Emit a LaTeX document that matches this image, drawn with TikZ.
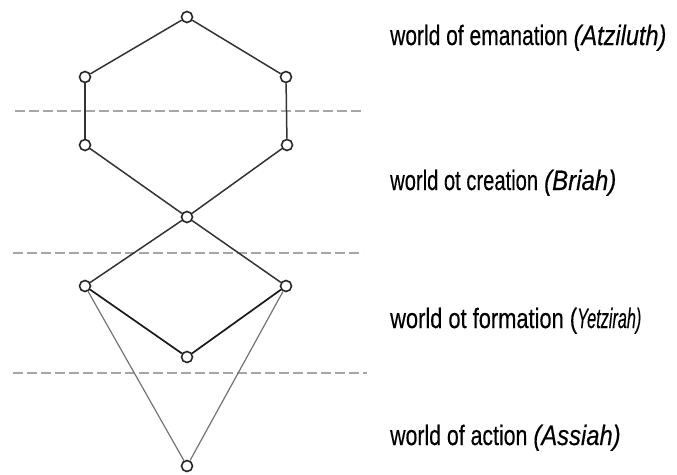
\documentclass[tikz,border=0pt]{standalone}
\usepackage{fontspec}
\setmainfont{Liberation Sans}
\newfontfamily\lblfont[FakeBold=0.35]{Liberation Sans}
\begin{document}
\begin{tikzpicture}[x=1pt,y=-1pt,
  pt/.style={circle,draw=black!85,line width=1.6pt,fill=white,inner sep=0pt,minimum size=11pt},
  edge/.style={draw=black!80,line width=1.5pt},
  faint/.style={draw=black!55,line width=1.2pt},
  sep/.style={draw=black!35,line width=1.1pt,dash pattern=on 10pt off 4pt},
  lbl/.style={anchor=base west,inner sep=0pt,font=\lblfont\fontsize{28}{30}\selectfont}]
\useasboundingbox (0,0) rectangle (677,474);
% separating dashed lines
\coordinate (s1a) at (15,111); \coordinate (s1b) at (363,111);
\coordinate (s2a) at (13,253); \coordinate (s2b) at (363,253);
\coordinate (s3a) at (13,373); \coordinate (s3b) at (367,373);
\draw[sep] (s1a) -- (s1b);
\draw[sep] (s2a) -- (s2b);
\draw[sep] (s3a) -- (s3b);
% points
\node[pt] (top) at (187,17) {};
\node[pt] (ul) at (85,77) {};
\node[pt] (ur) at (286,77) {};
\node[pt] (ll) at (85,145) {};
\node[pt] (lr) at (287,145) {};
\node[pt] (c) at (187,217) {};
\node[pt] (dl) at (85,286) {};
\node[pt] (dr) at (286,286) {};
\node[pt] (db) at (187,357) {};
\node[pt] (bot) at (187,466) {};
% connectors
\draw[edge] (top) -- (ul);
\draw[edge] (top) -- (ur);
\draw[edge] (ul) -- (ll);
\draw[edge] (ur) -- (lr);
\draw[edge] (ll) -- (c);
\draw[edge] (lr) -- (c);
\draw[edge] (c) -- (dl);
\draw[edge] (c) -- (dr);
\draw[edge,line width=1.7pt,draw=black!90] (dl) -- (db);
\draw[edge,line width=1.7pt,draw=black!90] (dr) -- (db);
\draw[faint] (dl) -- (bot);
\draw[faint] (dr) -- (bot);
% labels
\node[lbl] (t1) at (390,45) {\scalebox{0.75}[1]{world of emanation}\hspace{6pt}\scalebox{0.84}[1]{\itshape (Atziluth)}};
\node[lbl] (t2) at (390,190) {\scalebox{0.72}[1]{world ot creation}\hspace{6pt}\scalebox{0.86}[1]{\itshape (Briah)}};
\node[lbl] (t3) at (390,328) {\scalebox{0.78}[1]{world ot formation}\hspace{6pt}\scalebox{0.8}[1]{(}\scalebox{0.58}[1]{\itshape Yetzirah)}};
\node[lbl] (t4) at (390,445) {\scalebox{0.76}[1]{world of action}\hspace{6pt}\scalebox{0.85}[1]{\itshape (Assiah)}};
\end{tikzpicture}
\end{document}
